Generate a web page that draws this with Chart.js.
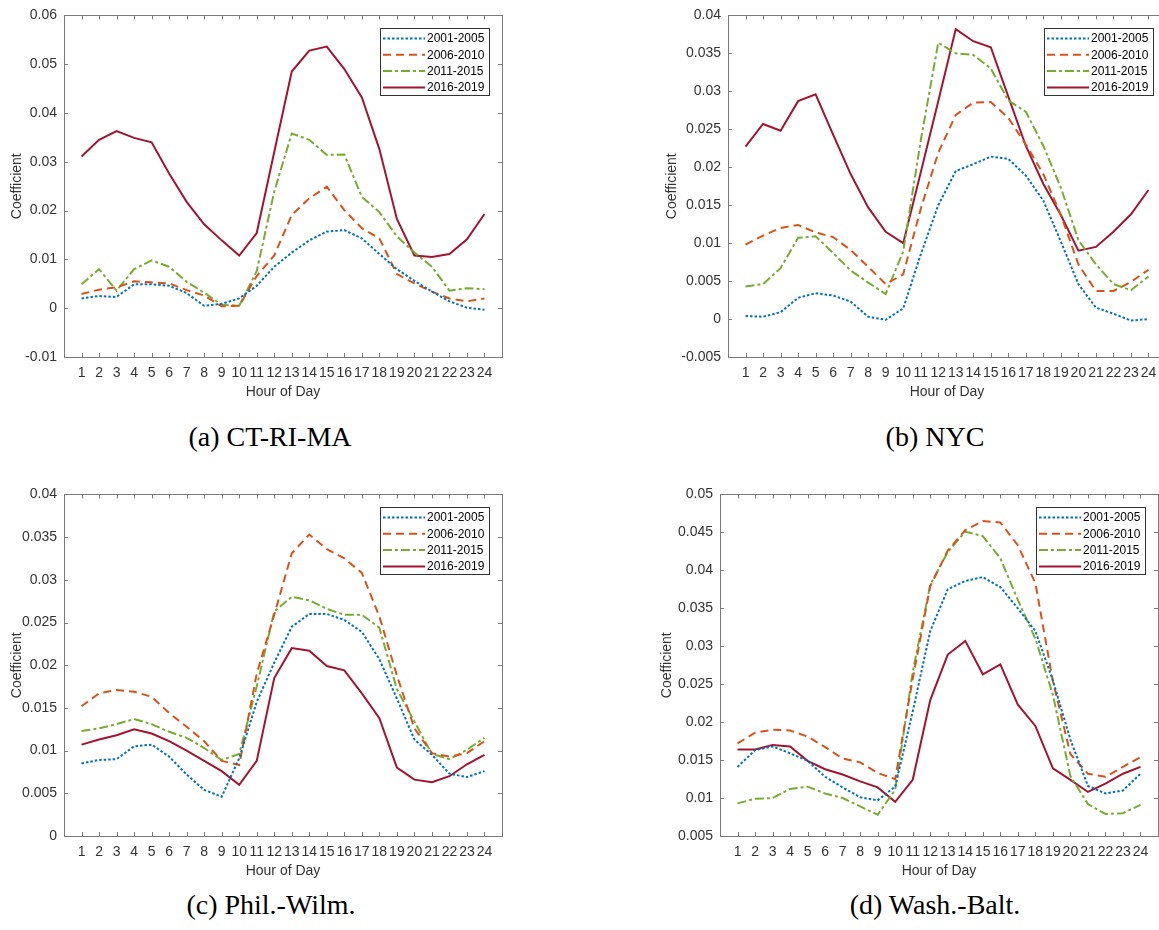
<!DOCTYPE html>
<html>
<head>
<meta charset="utf-8">
<script src="https://cdn.jsdelivr.net/npm/chart.js@4.4.1/dist/chart.umd.min.js"></script>
<style>
    body { margin: 0; width: 1159px; height: 930px; overflow: hidden; background: #fff; position: relative; }
    canvas { position: absolute; }
    .caption { position: absolute; width: 400px; text-align: center; font-family: "Liberation Serif", "Times New Roman", serif; font-size: 28px; line-height: 32px; color: #000; }
</style>
</head>
<body>
<canvas id="chartA" width="560" height="410" style="left:0;top:0"></canvas>
<canvas id="chartB" width="560" height="410" style="left:664px;top:0"></canvas>
<canvas id="chartC" width="560" height="410" style="left:0;top:479px"></canvas>
<canvas id="chartD" width="560" height="410" style="left:656px;top:479px"></canvas>
<div class="caption" style="left:70px;top:421px">(a) CT-RI-MA</div>
<div class="caption" style="left:735px;top:421px">(b) NYC</div>
<div class="caption" style="left:71px;top:889px">(c) Phil.-Wilm.</div>
<div class="caption" style="left:735px;top:889px">(d) Wash.-Balt.</div>
<script>
const hours   = [1,2,3,4,5,6,7,8,9,10,11,12,13,14,15,16,17,18,19,20,21,22,23,24];
const periods = ["2001-2005", "2006-2010", "2011-2015", "2016-2019"];

// (a) CT-RI-MA
const ctriP1 = [0.0020,0.0025,0.0023,0.0049,0.0049,0.0046,0.0031,0.0005,0.0009,0.0020,0.0046,0.0085,0.0114,0.0139,0.0157,0.0160,0.0143,0.0111,0.0080,0.0056,0.0034,0.0014,0.0001,-0.0003];
const ctriP2 = [0.0029,0.0038,0.0043,0.0055,0.0053,0.0051,0.0037,0.0026,0.0004,0.0005,0.0066,0.0108,0.0191,0.0225,0.0249,0.0201,0.0164,0.0143,0.0070,0.0051,0.0034,0.0020,0.0014,0.0020];
const ctriP3 = [0.0049,0.0080,0.0036,0.0080,0.0098,0.0085,0.0054,0.0032,0.0007,0.0005,0.0076,0.0239,0.0358,0.0345,0.0314,0.0315,0.0228,0.0197,0.0147,0.0114,0.0085,0.0036,0.0041,0.0039];
const ctriP4 = [0.0311,0.0345,0.0363,0.0349,0.0340,0.0276,0.0218,0.0172,0.0139,0.0108,0.0154,0.0320,0.0485,0.0528,0.0536,0.0490,0.0432,0.0326,0.0183,0.0108,0.0105,0.0111,0.0141,0.0193];

// (b) NYC
const nycP1 = [0.0004,0.0003,0.0009,0.0028,0.0034,0.0031,0.0023,0.0003,-0.0001,0.0014,0.0085,0.0150,0.0195,0.0204,0.0214,0.0211,0.0189,0.0156,0.0102,0.0046,0.0015,0.0007,-0.0002,0.0000];
const nycP2 = [0.0098,0.0110,0.0120,0.0124,0.0114,0.0108,0.0091,0.0069,0.0046,0.0059,0.0145,0.0219,0.0269,0.0285,0.0286,0.0265,0.0230,0.0191,0.0137,0.0072,0.0037,0.0037,0.0049,0.0065];
const nycP3 = [0.0043,0.0046,0.0067,0.0107,0.0109,0.0087,0.0064,0.0048,0.0033,0.0089,0.0235,0.0364,0.0350,0.0348,0.0330,0.0288,0.0273,0.0228,0.0173,0.0104,0.0072,0.0046,0.0038,0.0056];
const nycP4 = [0.0227,0.0257,0.0248,0.0287,0.0296,0.0243,0.0191,0.0147,0.0115,0.0100,0.0193,0.0287,0.0382,0.0366,0.0358,0.0293,0.0228,0.0178,0.0137,0.0090,0.0095,0.0115,0.0138,0.0170];

// (c) Phil.-Wilm.
const phwP1 = [0.0085,0.0089,0.0090,0.0105,0.0107,0.0093,0.0072,0.0054,0.0046,0.0091,0.0157,0.0203,0.0245,0.0260,0.0260,0.0253,0.0239,0.0207,0.0161,0.0113,0.0095,0.0073,0.0069,0.0076];
const phwP2 = [0.0152,0.0167,0.0171,0.0169,0.0163,0.0144,0.0128,0.0111,0.0088,0.0083,0.0190,0.0259,0.0331,0.0353,0.0336,0.0325,0.0308,0.0257,0.0188,0.0126,0.0097,0.0093,0.0097,0.0111];
const phwP3 = [0.0123,0.0126,0.0131,0.0137,0.0131,0.0122,0.0115,0.0103,0.0089,0.0096,0.0175,0.0263,0.0280,0.0276,0.0266,0.0259,0.0259,0.0244,0.0172,0.0134,0.0096,0.0090,0.0101,0.0115];
const phwP4 = [0.0107,0.0113,0.0118,0.0125,0.0120,0.0111,0.0100,0.0088,0.0076,0.0060,0.0088,0.0185,0.0220,0.0217,0.0199,0.0194,0.0167,0.0138,0.0080,0.0066,0.0063,0.0070,0.0084,0.0095];

// (d) Wash.-Balt.
const wbP1 = [0.0141,0.0163,0.0168,0.0159,0.0149,0.0128,0.0114,0.0101,0.0097,0.0115,0.0214,0.0320,0.0375,0.0386,0.0391,0.0378,0.0350,0.0320,0.0255,0.0177,0.0116,0.0106,0.0110,0.0132];
const wbP2 = [0.0172,0.0186,0.0190,0.0189,0.0181,0.0167,0.0152,0.0147,0.0133,0.0125,0.0257,0.0379,0.0426,0.0453,0.0465,0.0463,0.0433,0.0383,0.0254,0.0158,0.0132,0.0128,0.0141,0.0154];
const wbP3 = [0.0093,0.0099,0.0100,0.0112,0.0115,0.0106,0.0100,0.0089,0.0078,0.0111,0.0266,0.0381,0.0424,0.0451,0.0445,0.0416,0.0361,0.0310,0.0236,0.0129,0.0092,0.0079,0.0080,0.0091];
const wbP4 = [0.0164,0.0164,0.0170,0.0168,0.0149,0.0138,0.0131,0.0122,0.0114,0.0095,0.0124,0.0229,0.0289,0.0307,0.0263,0.0276,0.0223,0.0195,0.0139,0.0124,0.0108,0.0119,0.0132,0.0141];

const colors = ["#0072BD", "#D95319", "#77AC30", "#A2142F"];
const dashes = [[2.5, 2], [8, 5], [9, 3, 3, 3], []];
const axisColor = "#7a7a7a";
const textColor = "#333333";
const sansFont  = "'Liberation Sans', Arial, Helvetica, sans-serif";

const matlabBox = {
    id: "matlabBox",
    afterDraw(chart) {
        const { ctx, chartArea: a, scales: { x, y } } = chart;
        ctx.save();
        ctx.strokeStyle = axisColor;
        ctx.lineWidth = 1;
        ctx.setLineDash([]);
        ctx.strokeRect(Math.round(a.left) + 0.5, Math.round(a.top) + 0.5, Math.round(a.width), Math.round(a.height));

        ctx.beginPath();
        for (const t of x.ticks) {
            if (t.value < 1 || t.value > 24) continue;
            const px = Math.round(x.getPixelForValue(t.value)) + 0.5;
            ctx.moveTo(px, a.bottom); ctx.lineTo(px, a.bottom - 4);
            ctx.moveTo(px, a.top);    ctx.lineTo(px, a.top + 4);
        }
        for (const t of y.ticks) {
            const py = Math.round(y.getPixelForValue(t.value)) + 0.5;
            ctx.moveTo(a.left, py);  ctx.lineTo(a.left + 4, py);
            ctx.moveTo(a.right, py); ctx.lineTo(a.right - 4, py);
        }
        ctx.stroke();

        // legend box, top right inside the axes
        const bw = 109, bh = 67;
        const bx = Math.round(a.right - 13 - bw), by = Math.round(a.top + 13);
        ctx.fillStyle = "#ffffff";
        ctx.fillRect(bx, by, bw, bh);
        ctx.strokeStyle = "#333333";
        ctx.strokeRect(bx + 0.5, by + 0.5, bw, bh);
        ctx.font = "12px " + sansFont;
        ctx.textBaseline = "middle";
        ctx.textAlign = "left";
        chart.data.datasets.forEach((ds, i) => {
            const ly = by + 10.5 + i * 16.3;
            ctx.beginPath();
            ctx.setLineDash(ds.borderDash || []);
            ctx.strokeStyle = ds.borderColor;
            ctx.lineWidth = ds.borderWidth;
            ctx.moveTo(bx + 3, ly);
            ctx.lineTo(bx + 45, ly);
            ctx.stroke();
            ctx.setLineDash([]);
            ctx.fillStyle = "#000000";
            ctx.fillText(ds.label, bx + 47, ly + 0.5);
        });
        ctx.restore();
    }
};

function makeChart(id, series, yMin, yMax, yStep, titlePad) {
    const ctx = document.getElementById(id).getContext("2d");
    return new Chart(ctx, {
        type: "line",
        data: {
            datasets: series.map((values, i) => ({
                label: periods[i],
                data: values.map((v, k) => ({ x: hours[k], y: v })),
                borderColor: colors[i],
                borderDash: dashes[i],
                borderWidth: 2,
                pointRadius: 0,
                tension: 0,
                fill: false,
            }))
        },
        options: {
            responsive: false,
            animation: false,
            devicePixelRatio: 1,
            layout: { padding: { top: 11, right: 58, left: 0, bottom: 0 } },
            plugins: { legend: { display: false }, tooltip: { enabled: false } },
            scales: {
                x: {
                    type: "linear",
                    min: 0,
                    max: 25,
                    afterFit: s => { s.height = 53; },
                    grid: { display: false, drawTicks: false },
                    border: { display: false },
                    ticks: {
                        stepSize: 1,
                        autoSkip: false,
                        maxRotation: 0,
                        padding: 8,
                        color: textColor,
                        font: { family: sansFont, size: 14 },
                        callback: v => (v >= 1 && v <= 24) ? String(v) : "",
                    },
                    title: {
                        display: true,
                        text: "Hour of Day",
                        color: textColor,
                        font: { family: sansFont, size: 14 },
                        padding: { top: 0, bottom: 9.6 },
                    }
                },
                y: {
                    min: yMin,
                    max: yMax,
                    afterFit: s => { s.width = 64; },
                    grid: { display: false, drawTicks: false },
                    border: { display: false },
                    ticks: {
                        stepSize: yStep,
                        padding: 7,
                        color: textColor,
                        font: { family: sansFont, size: 14 },
                        callback: v => String(+v.toFixed(4)),
                    },
                    title: {
                        display: true,
                        text: "Coefficient",
                        color: textColor,
                        font: { family: sansFont, size: 14 },
                        padding: { top: titlePad, bottom: 0 },
                    }
                }
            }
        },
        plugins: [matlabBox]
    });
}

makeChart("chartA", [ctriP1, ctriP2, ctriP3, ctriP4], -0.01, 0.06, 0.01, 8.6);
makeChart("chartB", [nycP1, nycP2, nycP3, nycP4], -0.005, 0.04, 0.005, 0);
makeChart("chartC", [phwP1, phwP2, phwP3, phwP4], 0, 0.04, 0.005, 8.6);
makeChart("chartD", [wbP1, wbP2, wbP3, wbP4], 0.005, 0.05, 0.005, 2.6);
</script>
</body>
</html>
